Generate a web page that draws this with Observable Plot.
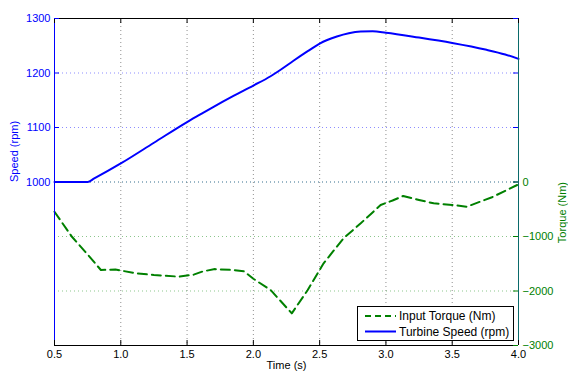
<!DOCTYPE html>
<html><head><meta charset="utf-8">
<script src="https://cdn.jsdelivr.net/npm/d3@7"></script>
<script src="https://cdn.jsdelivr.net/npm/@observablehq/plot@0.6"></script>
<style>body{margin:0;background:#fff;} #chart{width:568px;height:374px;}</style>
</head><body><div id="chart"></div>
<script>
// ---- data ----
const speedTime = [0.5, 0.75, 0.8, 1.0, 1.25, 1.5, 1.6, 1.7, 1.85, 2.0, 2.13, 2.2, 2.3, 2.41, 2.5, 2.63, 2.72, 2.81, 2.9, 3.0, 3.25, 3.5, 3.75, 3.9, 4.0];
const speedRpm  = [1000, 1000, 1006.5, 1034, 1072, 1110, 1124, 1138, 1158, 1177, 1194, 1205, 1222, 1240, 1254, 1267, 1273, 1276, 1276.5, 1274, 1265, 1255, 1243, 1234, 1226];
const torqueTime = [0.5, 0.63, 0.75, 0.85, 0.96, 1.1, 1.25, 1.44, 1.55, 1.62, 1.71, 1.85, 1.93, 2.0, 2.13, 2.29, 2.41, 2.53, 2.68, 2.81, 2.96, 3.05, 3.13, 3.25, 3.36, 3.5, 3.61, 3.8, 3.99];
const torqueNm   = [-545, -1000, -1330, -1615, -1605, -1670, -1706, -1737, -1700, -1640, -1598, -1615, -1640, -1775, -1982, -2410, -1982, -1492, -1033, -758, -422, -340, -257, -330, -391, -420, -453, -280, -55];
const timeTicks = [0.5, 1, 1.5, 2, 2.5, 3, 3.5, 4];
const speedTicks = [1000, 1100, 1200, 1300];
const torqueTicks = [0, -1000, -2000, -3000];
const timeDomain = [0.5, 4];
const speedDomain = [700, 1300];
const seriesNames = ["Input Torque (Nm)", "Turbine Speed (rpm)"];
const axisLabels = {x: "Time (s)", left: "Speed (rpm)", right: "Torque (Nm)"};

// ---- chart ----
const BLUE = "#0000ff", GREEN = "#008000", EDGE = "#0a6a6a";
const toSpeed = t => 1000 + t / 10;      // right axis [-3000,3000] <-> left axis [700,1300]
const toTorque = s => (s - 1000) * 10;
const fmt = d3.format("d");
const W = 568, H = 374, mL = 54, mR = 50, mT = 18, mB = 29;
const pw = W - mL - mR, ph = H - mT - mB;
const speed = speedTime.map((t, i) => ({t, v: speedRpm[i]}));
const torque = torqueTime.map((t, i) => ({t, v: toSpeed(torqueNm[i])}));
const gridTime = timeTicks.filter(d => d > timeDomain[0] && d < timeDomain[1]);
const torqueTickPos = torqueTicks.map(toSpeed);

const chart = Plot.plot({
  width: W, height: H, marginLeft: mL, marginRight: mR, marginTop: mT, marginBottom: mB,
  style: {fontFamily: "'Liberation Sans', Arial, sans-serif", fontSize: "11px", background: "#fff"},
  x: {domain: timeDomain},
  y: {domain: speedDomain},
  marks: [
    Plot.ruleX(gridTime, {stroke: "#444", strokeOpacity: 0.6, strokeDasharray: "1,3"}),
    Plot.ruleY(speedTicks.slice(0, 3), {stroke: BLUE, strokeOpacity: 0.45, strokeDasharray: "1,3"}),
    Plot.ruleY(torqueTickPos.slice(0, 3), {stroke: GREEN, strokeOpacity: 0.45, strokeDasharray: "1,3"}),
    Plot.line(torque, {x: "t", y: "v", stroke: GREEN, strokeWidth: 2, strokeDasharray: "9,5"}),
    Plot.line(speed, {x: "t", y: "v", stroke: BLUE, strokeWidth: 2, curve: "monotone-x"}),
    // frame
    Plot.ruleY([speedDomain[1]], {stroke: "#000"}),
    Plot.ruleY([speedDomain[0]], {stroke: "#000"}),
    Plot.ruleX([timeDomain[0]], {stroke: BLUE}),
    Plot.ruleX([timeDomain[1]], {stroke: EDGE}),
    // inward ticks
    Plot.tickX(timeTicks, {insetTop: ph - 5, stroke: "#000"}),
    Plot.tickX(timeTicks, {insetBottom: ph - 5, stroke: "#000"}),
    Plot.tickY(speedTicks, {insetRight: pw - 5, stroke: BLUE}),
    Plot.tickY(speedTicks, {insetLeft: pw - 5, stroke: BLUE}),
    Plot.tickY(torqueTickPos, {insetLeft: pw - 5, stroke: GREEN}),
    // axes labels
    Plot.axisX(timeTicks, {anchor: "bottom", tickSize: 0, tickPadding: 5, label: null, fill: "#000"}),
    Plot.axisY(speedTicks, {anchor: "left", tickSize: 0, tickPadding: 4, label: null, color: BLUE, tickFormat: fmt}),
    Plot.axisY(torqueTickPos, {anchor: "right", tickSize: 0, tickPadding: 4, label: null, color: GREEN, tickFormat: d => fmt(toTorque(d))}),
    Plot.text([axisLabels.x], {frameAnchor: "bottom", dy: 23, text: d => d, fill: "#000"}),
    Plot.text([axisLabels.left], {frameAnchor: "left", dx: -40, rotate: -90, text: d => d, fill: BLUE}),
    Plot.text([axisLabels.right], {frameAnchor: "right", dx: 44, rotate: -90, text: d => d, fill: GREEN})
  ]
});

// legend
const svg = d3.select(chart);
const lg = svg.append("g").attr("font-size", 12).attr("text-anchor", "start")
  .attr("font-family", "'Liberation Sans', Arial, sans-serif");
lg.append("rect").attr("x", 357.5).attr("y", 306.5).attr("width", 156).attr("height", 34)
  .attr("fill", "#fff").attr("stroke", "#000");
const styles = [{stroke: GREEN, dash: "6,4"}, {stroke: BLUE, dash: null}];
seriesNames.forEach((name, i) => {
  const y = 316 + i * 15.5;
  lg.append("line").attr("x1", 365).attr("x2", 396).attr("y1", y).attr("y2", y)
    .attr("stroke", styles[i].stroke).attr("stroke-width", 2).attr("stroke-dasharray", styles[i].dash);
  lg.append("text").attr("x", 399).attr("y", y).attr("dy", "0.35em").attr("text-anchor", "start")
    .attr("fill", "#000").text(name);
});

document.getElementById("chart").appendChild(chart);
</script>
</body></html>
